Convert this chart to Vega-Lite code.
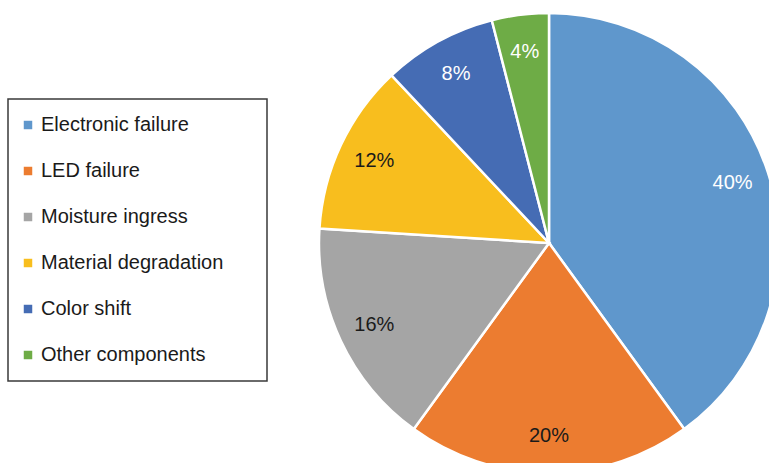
{
  "$schema": "https://vega.github.io/schema/vega-lite/v6.json",
  "autosize": "none",
  "width": 440,
  "height": 440,
  "padding": {"left": 329, "top": 23, "right": 0, "bottom": 0},
  "background": "white",
  "config": {"view": {"stroke": null}, "font": "Liberation Sans", "legend": {"strokeWidth": 1.5}},
  "data": {
    "values": [
      {"cause": "Electronic failure", "share": 0.40, "rank": 1},
      {"cause": "LED failure", "share": 0.20, "rank": 2},
      {"cause": "Moisture ingress", "share": 0.16, "rank": 3},
      {"cause": "Material degradation", "share": 0.12, "rank": 4},
      {"cause": "Color shift", "share": 0.08, "rank": 5},
      {"cause": "Other components", "share": 0.04, "rank": 6}
    ]
  },
  "encoding": {
    "theta": {"field": "share", "type": "quantitative", "stack": true},
    "order": {"field": "rank", "type": "quantitative"}
  },
  "layer": [
    {
      "mark": {"type": "arc", "outerRadius": 230, "stroke": "white", "strokeWidth": 2.5},
      "encoding": {
        "color": {
          "field": "cause",
          "type": "nominal",
          "scale": {
            "domain": ["Electronic failure", "LED failure", "Moisture ingress", "Material degradation", "Color shift", "Other components"],
            "range": ["#5F97CC", "#EC7C30", "#A5A5A5", "#F8BE1E", "#456CB4", "#6EAC46"]
          },
          "legend": {
            "title": "\u00a0",
            "titleOrient": "right",
            "titlePadding": 28,
            "titleFontSize": 20,
            "orient": "none",
            "legendX": -321,
            "legendY": 76,
            "symbolType": "square",
            "symbolSize": 72,
            "symbolStrokeWidth": 0,
            "symbolOffset": -6,
            "labelFontSize": 20,
            "labelColor": "#1a1a1a",
            "labelOffset": 3,
            "labelLimit": 400,
            "rowPadding": 26,
            "padding": 16,
            "strokeColor": "#3a3a3a",
            "fillColor": "white"
          }
        }
      }
    },
    {
      "mark": {"type": "text", "radius": 193, "fontSize": 20},
      "encoding": {
        "text": {"field": "share", "type": "quantitative", "format": ".0%"},
        "color": {
          "condition": {"test": "datum.share < 0.1 || datum.share >= 0.3", "value": "white"},
          "value": "#1a1a1a"
        }
      }
    }
  ]
}
